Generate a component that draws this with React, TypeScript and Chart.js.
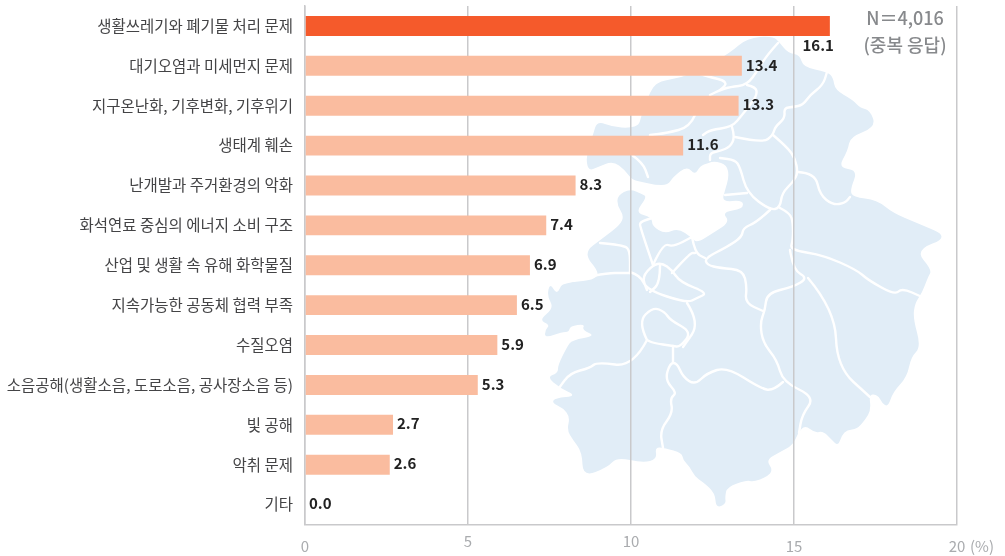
import React, { useEffect, useRef } from "react";
import { Chart, registerables } from "chart.js";

Chart.register(...registerables);

const categories = [
  "생활쓰레기와 폐기물 처리 문제",
  "대기오염과 미세먼지 문제",
  "지구온난화, 기후변화, 기후위기",
  "생태계 훼손",
  "난개발과 주거환경의 악화",
  "화석연료 중심의 에너지 소비 구조",
  "산업 및 생활 속 유해 화학물질",
  "지속가능한 공동체 협력 부족",
  "수질오염",
  "소음공해(생활소음, 도로소음, 공사장소음 등)",
  "빛 공해",
  "악취 문제",
  "기타",
];
const values = [16.1, 13.4, 13.3, 11.6, 8.3, 7.4, 6.9, 6.5, 5.9, 5.3, 2.7, 2.6, 0.0];
const raisedTicks = [5, 10];
const noteLines = ["N＝4,016", "(중복 응답)"];

const FONT = "'Noto Sans CJK KR', 'Noto Sans', sans-serif";
const GRID = "#c9c9cb";

// Decorative background map (page pixels).
const outline: number[][] = [
  [730,53],[747,38],[773,36],[780,43],[788,53],[800,55],[803,67],[827,72],[833,77],[835,90],[853,100],[860,108],[870,110],[876,127],[850,137],[848,150],[838,168],[858,170],[850,190],[853,197],[877,200],[893,213],[917,223],[950,237],[915,250],[932,270],
  [928,277],[922,293],[915,303],[913,318],[921,347],[911,357],[907,377],[893,392],[888,407],[882,403],[878,395],[869,394],[871,410],[865,420],[857,429],[847,430],[842,435],[838,446],[832,440],[823,431],[815,433],[805,425],[798,433],[793,445],[780,452],[766,460],[773,470],[767,477],[753,482],[747,480],[727,487],[725,497],[726,504],[716,508],[715,493],[703,482],[695,477],[690,467],[683,460],[682,453],[665,448],[655,447],[657,459],[643,463],[617,457],[608,467],[583,477],[582,452],[573,440],[567,430],[570,417],[563,408],[552,403],[555,398],[577,396],[560,388],[547,377],[558,373],[558,365],[567,347],[572,340],[596,336],[582,330],[585,324],[570,326],[569,332],[562,332],[545,338],[545,330],[550,325],[539,320],[554,308],[547,296],[550,283],[557,295],[562,283],[573,282],[593,280],[600,273],[583,253],[603,238],[620,225],[624,216],[617,205],[618,195],[630,189],[642,194],[647,197],[635,213],[652,217],[652,226],[665,234],[678,228],[692,238],[697,243],[713,233],[730,222],[722,212],[743,209],[743,200],[722,202],[725,190],[729,177],[727,165],[715,161],[708,163],[700,166],[695,175],[687,166],[673,177],[668,185],[655,185],[643,182],[632,180],[625,170],[613,161],[598,167],[588,171],[586,155],[593,135],[597,121],[613,127],[630,128],[639,125],[641,117],[645,105],[652,88],[660,81],[680,78],[700,70],
];
const borders: number[][][] = [
  [[778,43],[767,55],[758,70],[747,85],[730,87],[720,90],[710,95]],
  [[747,85],[756,87],[757,95],[750,105],[742,115],[732,127],[710,130],[703,135]],
  [[720,90],[727,85],[723,80],[713,78],[697,73]],
  [[695,115],[690,127],[667,133],[650,135]],
  [[732,127],[735,137],[730,147],[720,151],[710,153],[710,160]],
  [[735,137],[763,143],[773,135],[775,127],[785,118],[784,108],[793,107],[803,105],[810,95],[823,85],[827,72]],
  [[773,135],[787,147],[795,158],[798,173],[793,182],[782,193],[780,208],[770,210],[747,193],[740,167],[735,160],[720,158]],
  [[798,172],[815,173],[820,195],[833,205],[845,203],[850,197]],
  [[747,193],[725,195]],
  [[770,210],[757,222],[743,228],[742,237],[727,247],[705,258],[707,265],[720,268],[743,270],[747,287],[745,303],[763,311]],
  [[780,208],[790,213],[793,223],[793,240],[790,250],[823,255],[857,270],[868,280],[895,295],[902,288],[922,297]],
  [[790,250],[793,270],[808,278],[793,287],[767,293],[765,310],[760,323],[763,343],[777,360],[783,382],[815,397],[802,415],[799,433]],
  [[783,382],[773,391],[760,388],[727,367],[707,373],[695,385],[683,377],[677,363],[670,363],[665,380],[677,393],[670,398],[673,413],[660,430],[663,448]],
  [[808,278],[835,310],[837,367],[870,397]],
  [[673,346],[673,362]],
  [[647,340],[638,322],[653,307],[665,312],[670,320],[692,332],[680,347],[673,346],[653,343],[647,340]],
  [[687,303],[700,323],[683,347]],
  [[647,340],[633,367],[597,362],[590,368],[570,373],[559,388]],
  [[630,272],[640,275],[647,290],[687,303],[697,298],[708,293],[680,282],[672,270],[662,263],[653,265],[642,277],[647,290]],
  [[660,265],[660,283],[650,292]],
  [[653,265],[640,227],[640,222],[652,218]],
  [[653,265],[663,243],[673,247],[692,237]],
  [[692,237],[695,253],[705,258]],
  [[672,273],[690,253],[695,253]],
  [[600,243],[623,245],[630,250],[630,273]],
  [[560,284],[600,273],[630,273]],
  [[632,155],[643,163],[648,177]],
];

const smooth = (pts: number[][], closed: boolean) => {
  if (closed) {
    const n = pts.length;
    const mid = (a: number[], b: number[]) => `${(a[0] + b[0]) / 2} ${(a[1] + b[1]) / 2}`;
    let d = `M${mid(pts[n - 1], pts[0])}`;
    pts.forEach((p, i) => { d += ` Q${p[0]} ${p[1]} ${mid(p, pts[(i + 1) % n])}`; });
    return d + "Z";
  }
  let d = `M${pts[0][0]} ${pts[0][1]}`;
  for (let i = 1; i < pts.length - 1; i++) {
    d += ` Q${pts[i][0]} ${pts[i][1]} ${(pts[i][0] + pts[i + 1][0]) / 2} ${(pts[i][1] + pts[i + 1][1]) / 2}`;
  }
  const l = pts[pts.length - 1];
  return d + ` L${l[0]} ${l[1]}`;
};

const annotate = {
  id: "annotate",
  afterDatasetsDraw(chart: any) {
    const { ctx, scales } = chart;
    const bars = chart.getDatasetMeta(0).data;
    const top = Math.max(...values);
    ctx.save();
    ctx.font = `700 15px ${FONT}`;
    ctx.fillStyle = "#222222";
    ctx.textBaseline = "middle";
    bars.forEach((bar: any, i: number) => {
      const text = values[i].toFixed(1);
      if (values[i] === top) {
        ctx.textAlign = "right";
        ctx.fillText(text, bar.x + 4, bar.y + 19);
      } else {
        ctx.textAlign = "left";
        ctx.fillText(text, bar.x + 4, bar.y - 1);
      }
    });
    ctx.font = `500 18px ${FONT}`;
    ctx.fillStyle = "#87898c";
    ctx.textAlign = "center";
    ctx.fillText(noteLines[0], 905, 18);
    ctx.fillText(noteLines[1], 905, 45);
    ctx.font = `400 15px ${FONT}`;
    ctx.fillStyle = "#a9abae";
    ctx.textAlign = "left";
    ctx.fillText("(%)", scales.x.getPixelForValue(20) + 13, 546);
    ctx.restore();
  },
};

export default function App() {
  const ref = useRef<HTMLCanvasElement>(null);
  useEffect(() => {
    document.body.style.margin = "0";
    const chart = new Chart(ref.current!, {
      type: "bar",
      plugins: [annotate],
      data: {
        labels: categories,
        datasets: [
          {
            data: values,
            backgroundColor: values.map((_, i) => (i === 0 ? "#f55a2b" : "#fabc9f")),
            categoryPercentage: 1,
            barPercentage: 0.5,
          },
        ],
      },
      options: {
        indexAxis: "y",
        animation: false,
        responsive: false,
        layout: { padding: { top: 6, right: 48, left: 0, bottom: 0 } },
        plugins: { legend: { display: false }, tooltip: { enabled: false }, title: { display: false } },
        scales: {
          x: {
            min: 0,
            max: 20,
            afterFit(s: any) { s.height = 31.5; s.paddingLeft = 0; s.paddingRight = 0; },
            grid: { color: GRID, lineWidth: 1.5, drawTicks: false },
            border: { color: GRID, width: 1.5 },
            ticks: {
              stepSize: 5,
              padding: 14,
              maxRotation: 0,
              color: "#a9abae",
              font: { family: FONT, size: 15, lineHeight: "5px" },
              callback: (v: any) => (raisedTicks.includes(v) ? [String(v), ""] : ["", String(v)]),
            },
          },
          y: {
            afterFit(s: any) { s.width = 305; s.paddingTop = 0; s.paddingBottom = 0; },
            grid: { display: false, drawTicks: false },
            border: { color: GRID, width: 1.5 },
            ticks: {
              autoSkip: false,
              padding: 12,
              color: "#444446",
              font: { family: FONT, size: 15.5 },
            },
          },
        },
      },
    } as any);
    return () => chart.destroy();
  }, []);
  return (
    <div style={{ position: "relative", width: 1005, height: 556 }}>
      <svg width={1005} height={556} style={{ position: "absolute", left: 0, top: 0 }}>
        <path d={smooth(outline, true)} fill="#e1edf7" />
        {borders.map((b, i) => (
          <path key={i} d={smooth(b, false)} fill="none" stroke="#ffffff" strokeWidth={2.4} strokeLinecap="round" strokeLinejoin="round" />
        ))}
      </svg>
      <canvas ref={ref} width={1005} height={556} style={{ position: "absolute", left: 0, top: 0, display: "block" }} />
    </div>
  );
}
